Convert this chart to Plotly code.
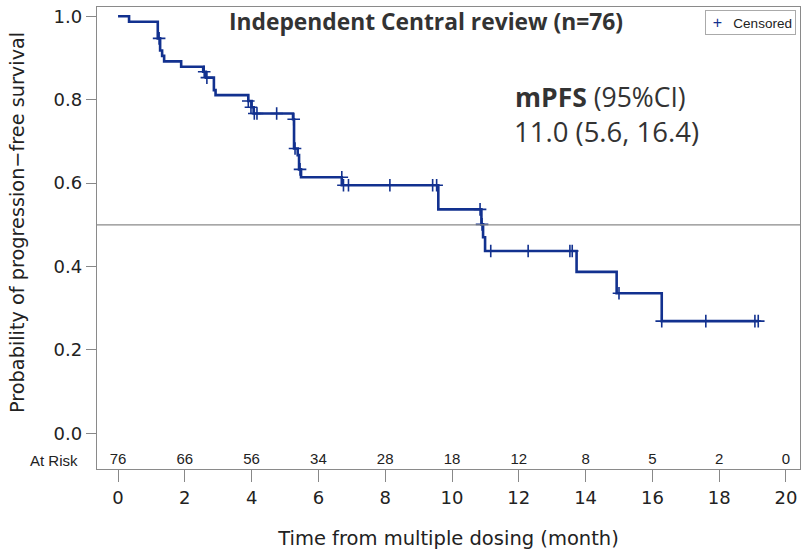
import plotly.graph_objects as go

# KM step data (time in months, survival after step)
step_times = [0, 0.33, 1.19, 1.26, 1.32, 1.38, 1.89, 2.55, 2.63, 2.87, 2.92, 3.90, 4.00, 4.06,
              5.24, 5.27, 5.38, 5.42, 5.48, 6.70, 9.59, 10.88, 10.93, 10.99, 13.73, 14.93, 16.28, 19.17]
step_surv = [1.0, 0.987, 0.947, 0.918, 0.905, 0.892, 0.879, 0.867, 0.853, 0.823, 0.811, 0.797, 0.782, 0.767,
             0.753, 0.683, 0.667, 0.633, 0.614, 0.595, 0.537, 0.501, 0.470, 0.437, 0.387, 0.336, 0.269, 0.269]

censor_times = [1.23, 2.58, 2.66, 3.90, 3.98, 4.08, 4.16, 4.75, 5.26, 5.30, 5.45, 6.70, 6.75, 6.90, 8.14,
                9.42, 9.54, 10.84, 10.90, 11.16, 12.28, 13.53, 13.60, 15.00, 16.28, 17.60, 19.07, 19.17]
censor_surv = [0.947, 0.867, 0.853, 0.797, 0.782, 0.767, 0.767, 0.767, 0.753, 0.683, 0.633, 0.614, 0.595, 0.595, 0.595,
               0.595, 0.595, 0.537, 0.501, 0.437, 0.437, 0.437, 0.437, 0.336, 0.269, 0.269, 0.269, 0.269]

risk_times = [0, 2, 4, 6, 8, 10, 12, 14, 16, 18, 20]
risk_counts = [76, 66, 56, 34, 28, 18, 12, 8, 5, 2, 0]

y_ticks = [0.0, 0.2, 0.4, 0.6, 0.8, 1.0]
median_ref = 0.5
risk_row_y = -0.0655

LINE = "#12318f"
AXFONT = "DejaVu Sans, sans-serif"
NARROW = "Liberation Sans, Arial, sans-serif"
TXT = "#222222"

# plot area in page pixels: x 97..800, y 7..469
PL, PW, PT, PH = 97, 703, 7, 462


def px(x):
    return (x - PL) / PW


def py(y):
    return 1 - (y - PT) / PH


fig = go.Figure()
fig.add_trace(go.Scatter(x=step_times, y=step_surv, mode="lines", line=dict(color=LINE, width=2.6, shape="hv"),
                         showlegend=False, hoverinfo="skip"))
fig.add_trace(go.Scatter(x=censor_times, y=censor_surv, mode="markers", name="Censored", showlegend=False,
                         marker=dict(symbol="cross-thin", size=9, line=dict(color=LINE, width=1.6), color=LINE)))
fig.add_trace(go.Scatter(x=risk_times, y=[risk_row_y] * len(risk_times), mode="text",
                         text=[str(c) for c in risk_counts], textfont=dict(family=NARROW, size=15, color=TXT),
                         showlegend=False, hoverinfo="skip"))

fig.add_shape(type="line", xref="paper", x0=0, x1=1, yref="y", y0=median_ref, y1=median_ref,
              line=dict(color="#8a8a8a", width=1.3))

# legend box (bordered annotation to match the compact original)
fig.add_annotation(text=f"&nbsp;<span style='color:{LINE};font-size:16px'>+</span>&nbsp;&nbsp;&nbsp;Censored",
                   xref="paper", yref="paper",
                   x=px(796), y=py(10), showarrow=False, xanchor="right", yanchor="top",
                   bordercolor="#aaaaaa", borderwidth=1, borderpad=3, bgcolor="white",
                   font=dict(family=NARROW, size=13.5, color=TXT))

fig.add_annotation(text="<b>Independent Central review (n=76)</b>", xref="paper", yref="paper",
                   x=px(426), y=py(22), showarrow=False, xanchor="center", yanchor="middle",
                   font=dict(family="Open Sans, sans-serif", size=22.8, color="#333"))
fig.add_annotation(text="<b>mPFS</b> (95%CI)", xref="paper", yref="paper",
                   x=px(513), y=py(97), showarrow=False, xanchor="left", yanchor="middle",
                   font=dict(family="Open Sans, sans-serif", size=26.5, color="#333"))
fig.add_annotation(text="11.0 (5.6, 16.4)", xref="paper", yref="paper",
                   x=px(512), y=py(131), showarrow=False, xanchor="left", yanchor="middle",
                   font=dict(family="Open Sans, sans-serif", size=27.5, color="#333"))
fig.add_annotation(text="At Risk", xref="paper", yref="y", x=px(80), y=risk_row_y, showarrow=False,
                   xanchor="right", yanchor="middle", font=dict(family=NARROW, size=15, color=TXT))
fig.add_annotation(text="Probability of progression−free survival", xref="paper", yref="paper",
                   x=px(18), y=py(223), showarrow=False, textangle=-90,
                   xanchor="center", yanchor="middle", font=dict(family=AXFONT, size=19.3, color=TXT))

fig.update_layout(
    width=810, height=554, margin=dict(l=PL, r=810 - PL - PW, t=PT, b=554 - PT - PH),
    paper_bgcolor="white", plot_bgcolor="white",
    font=dict(family=AXFONT, color=TXT),
    showlegend=False,
    xaxis=dict(range=[-0.63, 20.42], tickvals=risk_times, ticks="outside", ticklen=12, tickcolor="#888",
               showline=True, mirror=True, linecolor="#8a8a8a", linewidth=1.3, showgrid=False, zeroline=False,
               tickfont=dict(family=AXFONT, size=18, color=TXT),
               title=dict(text="Time from multiple dosing (month)", font=dict(family=AXFONT, size=19.5, color=TXT),
                          standoff=24)),
    yaxis=dict(range=[-0.0856, 1.0223], tickvals=y_ticks, tickformat=".1f", ticks="outside", ticklen=10,
               tickcolor="#888", showline=True, mirror=True, linecolor="#8a8a8a", linewidth=1.3,
               showgrid=False, zeroline=False, tickfont=dict(family=AXFONT, size=18, color=TXT),
               ticklabeloverflow="allow"),
)

fig.write_html("out.html", config={"displayModeBar": False},
               post_script="document.body.style.margin='0';document.body.style.overflow='hidden';")
